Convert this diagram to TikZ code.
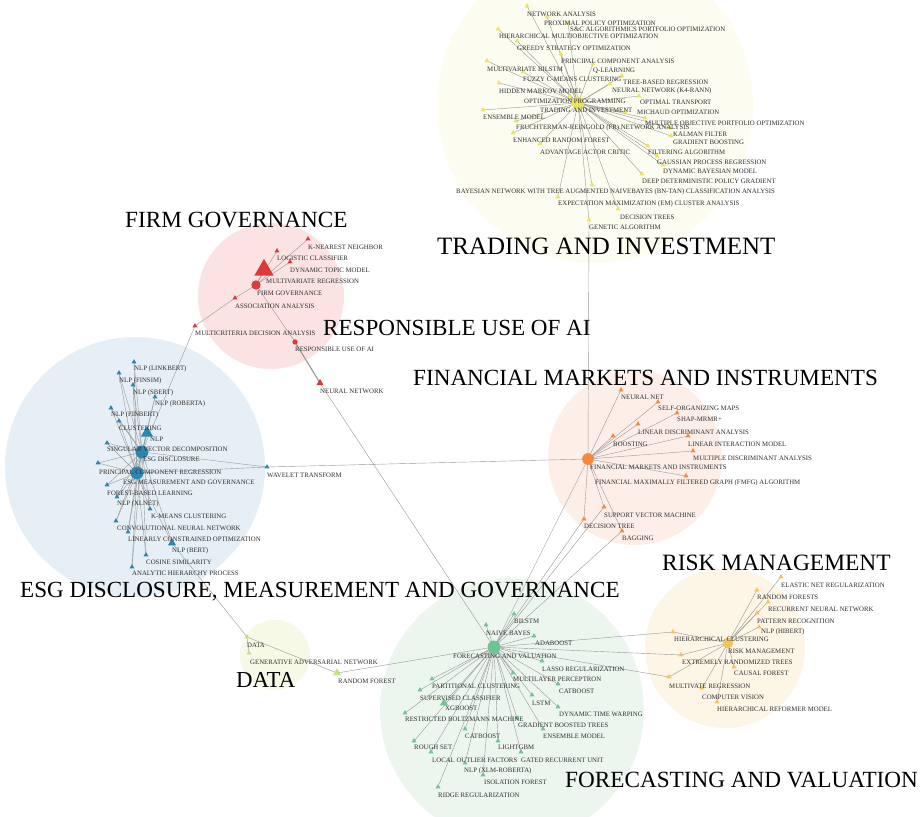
\documentclass[tikz,border=0pt]{standalone}
\usepackage{tikz, tkz-euclide}
\usepackage{fontspec}
\setmainfont{Liberation Serif}
\usetikzlibrary{shapes.geometric}

\definecolor{tiyel}{HTML}{EDE35E}
\definecolor{tibg}{HTML}{FDFCF0}
\definecolor{fgred}{HTML}{D93A3C}
\definecolor{fgbg}{HTML}{FBE3E3}
\definecolor{esgblue}{HTML}{2B87B2}
\definecolor{esgbg}{HTML}{E6EFF5}
\definecolor{fmorange}{HTML}{F5883C}
\definecolor{fmbg}{HTML}{FDEFE8}
\definecolor{rmgold}{HTML}{F5C35C}
\definecolor{rmbg}{HTML}{FDF5E6}
\definecolor{fvgreen}{HTML}{6CC592}
\definecolor{fvbg}{HTML}{ECF6EE}
\definecolor{dtgreen}{HTML}{C3E27A}
\definecolor{dtbg}{HTML}{F6F9E6}

\tikzset{
  link/.style = {draw=gray!80, line width=0.35pt},
  tri/.style = {regular polygon, regular polygon sides=3, inner sep=0pt,
                minimum size=5pt, fill=#1, draw=none},
  hubdot/.style = {circle, inner sep=0pt, minimum size=10pt, fill=#1, draw=none},
  lbl/.style = {anchor=west, inner sep=0pt, text=black!82,
                font=\fontsize{5.8}{6}\selectfont},
  heading/.style = {anchor=west, inner sep=0pt, font=\fontsize{#1}{#1}\selectfont},
  heading/.default = 20
}

\begin{document}
\begin{tikzpicture}[x=0.03cm, y=-0.03cm]
    \useasboundingbox (0,0) rectangle (921,817);
    \fill[white] (0,0) rectangle (921,817);

    % cluster discs
    \fill[tibg] (595,105) circle[radius=158];
    \fill[fgbg] (271,296) circle[radius=73];
    \fill[esgbg] (135,467) circle[radius=130];
    \fill[fmbg] (635,458) circle[radius=87];
    \fill[rmbg] (725,648) circle[radius=80];
    \fill[fvbg] (512,710) circle[radius=132];
    \fill[dtbg] (275,655) circle[radius=35];

    % hubs and leaves
    \tkzDefPoints{578/103/TI, 256/285/FG, 295/342/RU, 142/452/ED, 137/473/EM,
      247/637/DT, 588/459/FM, 728/643/RM, 494/647/FV}
    \tkzDefPoints{527/6/t1, 547/17/t2, 568/23/t3, 498/29/t4, 517/41/t5,
      561/54/t6, 487/61/t7, 593/64/t8, 523/72/t9, 622/76/t10, 499/83/t11,
      610/84/t12, 570/96/t13, 639/96/t14, 625/112/t15, 483/110/t16,
      645/118/t17, 516/121/t18, 513/133/t19, 670/128/t20, 671/136/t21,
      540/144/t22, 648/146/t23, 657/156/t24, 663/165/t25, 642/174/t26,
      592/185/t27, 558/197/t28, 618/209/t29, 589/220/t30}
    \tkzDefPoints{308/239/f1, 277/251/f2, 290/262/f3, 264/270/f4, 235/298/f5,
      195/326/f6, 320/383/f7}
    \tkzDefPoints{134/362/e1, 119/373/e2, 133/385/e3, 155/397/e4, 111/408/e5,
      119/421/e6, 147/433/e7, 107/443/e8, 98/463/e9, 267/467/e10,
      107/485/e11, 117/497/e12, 150/509/e13, 116/521/e14, 128/532/e15,
      172/543/e16, 146/555/e17, 132/567/e18}
    \tkzDefPoints{249/653/d1, 337/673/d2}
    \tkzDefPoints{621/390/m1, 658/402/m2, 677/413/m3, 638/424/m4, 613/436/m5,
      688/436/m6, 693/451/m7, 686/476/m8, 604/507/m9, 584/519/m10, 622/531/m11}
    \tkzDefPoints{781/577/r1, 757/590/r2, 768/602/r3, 757/613/r4, 759/627/r5,
      673/632/r6, 681/655/r7, 734/667/r8, 669/677/r9, 702/688/r10, 717/702/r11}
    \tkzDefPoints{514/614/v1, 486/625/v2, 534/636/v3, 542/661/v4, 513/673/v5,
      432/679/v6, 558/684/v7, 420/690/v8, 532/695/v9, 444/703/v10,
      558/707/v11, 405/713/v12, 517/718/v13, 465/729/v14, 543/729/v15,
      414/741/v16, 498/741/v17, 431/752/v18, 521/752/v19, 465/763/v20,
      483/775/v21, 438/787/v22}

    % edges
    \foreach \i in {1,...,30} \draw[link] (TI) -- (t\i);
    \foreach \i in {1,...,5} \draw[link] (FG) -- (f\i);
    \foreach \i in {1,...,9,11,12,...,18} {
      \draw[link] (ED) -- (e\i);
      \draw[link] (EM) -- (e\i);
    }
    \foreach \i in {1,...,11} \draw[link] (FM) -- (m\i);
    \foreach \i in {1,...,11} \draw[link] (RM) -- (r\i);
    \foreach \i in {1,...,22} \draw[link] (FV) -- (v\i);
    \tkzDrawSegments[link](t30,FM f5,f6 f6,ED FG,RU RU,f7 f7,FV ED,EM ED,e10
      EM,e10 e10,FM e16,DT DT,d1 DT,d2 d2,FV FM,FV m9,FV m10,FV m11,FV
      FV,r6 FV,r7 FV,r9)
    \draw[link, line width=0.9pt] (RU) -- (f7);

    % markers
    \foreach \i in {1,...,30} \node[tri=tiyel] (mt\i) at (t\i) {};
    \foreach \i in {1,2,3,5,6} \node[tri=fgred] (mf\i) at (f\i) {};
    \node[tri=fgred, minimum size=19pt] (mf4) at (f4) {};
    \node[tri=fgred, minimum size=7pt] (mf7) at (f7) {};
    \foreach \i in {1,...,6,8,9,...,15,17,18} \node[tri=esgblue] (me\i) at (e\i) {};
    \node[tri=esgblue, minimum size=12pt] (me7) at (e7) {};
    \node[tri=esgblue, minimum size=8pt] (me16) at (e16) {};
    \node[tri=dtgreen] (mdt) at (DT) {};
    \node[tri=dtgreen] (md1) at (d1) {};
    \node[tri=dtgreen, minimum size=8pt] (md2) at (d2) {};
    \foreach \i in {1,...,11} \node[tri=fmorange] (mm\i) at (m\i) {};
    \foreach \i in {1,...,11} \node[tri=rmgold] (mr\i) at (r\i) {};
    \foreach \i in {1,...,9,11,12,...,22} \node[tri=fvgreen] (mv\i) at (v\i) {};
    \node[tri=fvgreen, minimum size=8pt] (mv10) at (v10) {};
    \node[hubdot=tiyel, minimum size=11pt] (hTI) at (TI) {};
    \node[hubdot=fgred, minimum size=8pt] (hFG) at (FG) {};
    \node[hubdot=fgred, minimum size=4.5pt] (hRU) at (RU) {};
    \node[hubdot=esgblue, minimum size=11pt] (hED) at (ED) {};
    \node[hubdot=esgblue, minimum size=11pt] (hEM) at (EM) {};
    \node[hubdot=fmorange, minimum size=10pt] (hFM) at (FM) {};
    \node[hubdot=rmgold, minimum size=9pt] (hRM) at (RM) {};
    \node[hubdot=fvgreen, minimum size=11pt] (hFV) at (FV) {};

    % labels
    \foreach \n/\lx/\ly/\txt in {t1/527/14/NETWORK ANALYSIS,
      t2/544/23/PROXIMAL POLICY OPTIMIZATION,
      t3/570/29/S\&C ALGORITHMICS PORTFOLIO OPTIMIZATION,
      t4/499/36/HIERARCHICAL MULTIOBJECTIVE OPTIMIZATION,
      t5/517/48/GREEDY STRATEGY OPTIMIZATION,
      t6/561/61/PRINCIPAL COMPONENT ANALYSIS,
      t7/487/69/MULTIVARIATE BILSTM,
      t8/593/71/Q-LEARNING,
      t9/523/79/FUZZY C-MEANS CLUSTERING,
      t10/623/82/TREE-BASED REGRESSION,
      t11/499/91/HIDDEN MARKOV MODEL,
      t12/612/91/NEURAL NETWORK (K4-RANN),
      t13/524/101/OPTIMIZATION PROGRAMMING,
      t14/640/102/OPTIMAL TRANSPORT,
      TI/540/110/TRADING AND INVESTMENT,
      t15/637/112/MICHAUD OPTIMIZATION,
      t16/483/117/ENSEMBLE MODEL,
      t17/645/123/MULTIPLE OBJECTIVE PORTFOLIO OPTIMIZATION,
      t18/516/128/FRUCHTERMAN-REINGOLD (FR) NETWORK ANALYSIS,
      t19/513/140/ENHANCED RANDOM FOREST,
      t20/673/134/KALMAN FILTER,
      t21/673/142/GRADIENT BOOSTING,
      t22/540/152/ADVANTAGE ACTOR CRITIC,
      t23/648/152/FILTERING ALGORITHM,
      t24/657/162/GAUSSIAN PROCESS REGRESSION,
      t25/663/171/DYNAMIC BAYESIAN MODEL,
      t26/642/181/DEEP DETERMINISTIC POLICY GRADIENT,
      t27/456/192/BAYESIAN NETWORK WITH TREE AUGMENTED NAIVEBAYES (BN-TAN) CLASSIFICATION ANALYSIS,
      t28/558/204/EXPECTATION MAXIMIZATION (EM) CLUSTER ANALYSIS,
      t29/620/217/DECISION TREES,
      t30/589/227/GENETIC ALGORITHM}
      \node[lbl] (l\n) at (\lx,\ly) {\txt};
    \foreach \n/\lx/\ly/\txt in {f1/308/247/K-NEAREST NEIGHBOR,
      f2/277/258/LOGISTIC CLASSIFIER,
      f3/290/270/DYNAMIC TOPIC MODEL,
      f4/266/281/MULTIVARIATE REGRESSION,
      FG/257/293/FIRM GOVERNANCE,
      f5/235/306/ASSOCIATION ANALYSIS,
      f6/195/333/MULTICRITERIA DECISION ANALYSIS,
      RU/295/349/RESPONSIBLE USE OF AI,
      f7/320/391/NEURAL NETWORK}
      \node[lbl] (l\n) at (\lx,\ly) {\txt};
    \foreach \n/\lx/\ly/\txt in {e1/134/369/NLP (LINKBERT),
      e2/119/381/NLP (FINSIM),
      e3/133/393/NLP (SBERT),
      e4/155/404/NLP (ROBERTA),
      e5/111/415/NLP (FINBERT),
      e6/119/428/CLUSTERING,
      e7/150/439/NLP,
      e8/107/449/SINGULAR VECTOR DECOMPOSITION,
      ED/143/459/ESG DISCLOSURE,
      e9/99/472/PRINCIPAL COMPONENT REGRESSION,
      EM/123/482/ESG MEASUREMENT AND GOVERNANCE,
      e10/267/475/WAVELET TRANSFORM,
      e11/107/493/FOREST-BASED LEARNING,
      e12/117/504/NLP (XLNET),
      e13/151/516/K-MEANS CLUSTERING,
      e14/117/528/CONVOLUTIONAL NEURAL NETWORK,
      e15/128/539/LINEARLY CONSTRAINED OPTIMIZATION,
      e16/172/551/NLP (BERT),
      e17/146/562/COSINE SIMILARITY,
      e18/132/573/ANALYTIC HIERARCHY PROCESS}
      \node[lbl] (l\n) at (\lx,\ly) {\txt};
    \foreach \n/\lx/\ly/\txt in {DT/247/645/DATA,
      d1/250/662/GENERATIVE ADVERSARIAL NETWORK,
      d2/338/681/RANDOM FOREST}
      \node[lbl] (l\n) at (\lx,\ly) {\txt};
    \foreach \n/\lx/\ly/\txt in {m1/621/397/NEURAL NET,
      m2/658/408/SELF-ORGANIZING MAPS,
      m3/677/419/SHAP-MRMR+,
      m4/638/432/LINEAR DISCRIMINANT ANALYSIS,
      m5/613/444/BOOSTING,
      m6/688/444/LINEAR INTERACTION MODEL,
      m7/693/458/MULTIPLE DISCRIMINANT ANALYSIS,
      FM/590/467/FINANCIAL MARKETS AND INSTRUMENTS,
      m8/595/483/FINANCIAL MAXIMALLY FILTERED GRAPH (FMFG) ALGORITHM,
      m9/604/515/SUPPORT VECTOR MACHINE,
      m10/584/526/DECISION TREE,
      m11/622/538/BAGGING}
      \node[lbl] (l\n) at (\lx,\ly) {\txt};
    \foreach \n/\lx/\ly/\txt in {r1/781/585/ELASTIC NET REGULARIZATION,
      r2/757/597/RANDOM FORESTS,
      r3/768/609/RECURRENT NEURAL NETWORK,
      r4/757/621/PATTERN RECOGNITION,
      r5/761/632/NLP (HIBERT),
      r6/674/639/HIERARCHICAL CLUSTERING,
      RM/728/651/RISK MANAGEMENT,
      r7/682/662/EXTREMELY RANDOMIZED TREES,
      r8/734/673/CAUSAL FOREST,
      r9/669/686/MULTIVATE REGRESSION,
      r10/702/697/COMPUTER VISION,
      r11/717/709/HIERARCHICAL REFORMER MODEL}
      \node[lbl] (l\n) at (\lx,\ly) {\txt};
    \foreach \n/\lx/\ly/\txt in {v1/514/621/BILSTM,
      v2/486/633/NAIVE BAYES,
      v3/535/643/ADABOOST,
      FV/453/656/FORECASTING AND VALUATION,
      v4/542/669/LASSO REGULARIZATION,
      v5/513/679/MULTILAYER PERCEPTRON,
      v6/432/686/PARTITIONAL CLUSTERING,
      v7/559/691/CATBOOST,
      v8/420/698/SUPERVISED CLASSIFIER,
      v9/532/703/LSTM,
      v10/445/708/XGBOOST,
      v11/559/714/DYNAMIC TIME WARPING,
      v12/405/719/RESTRICTED BOLTZMANN MACHINE,
      v13/518/725/GRADIENT BOOSTED TREES,
      v14/465/736/CATBOOST,
      v15/543/736/ENSEMBLE MODEL,
      v16/414/747/ROUGH SET,
      v17/498/747/LIGHTGBM,
      v18/432/760/LOCAL OUTLIER FACTORS,
      v19/521/760/GATED RECURRENT UNIT,
      v20/464/771/NLP (XLM-ROBERTA),
      v21/484/782/ISOLATION FOREST,
      v22/438/795/RIDGE REGULARIZATION}
      \node[lbl] (l\n) at (\lx,\ly) {\txt};

    % cluster headings
    \node[heading=19.8] (hdFG) at (125,220) {FIRM GOVERNANCE};
    \node[heading=21.3] (hdTI) at (437,246) {TRADING AND INVESTMENT};
    \node[heading=19.7] (hdRU) at (323,328) {RESPONSIBLE USE OF AI};
    \node[heading=19.75] (hdFM) at (413,378) {FINANCIAL MARKETS AND INSTRUMENTS};
    \node[heading=20] (hdRM) at (662,563) {RISK MANAGEMENT};
    \node[heading=19.7] (hdESG) at (20,592) {ESG DISCLOSURE, MEASUREMENT AND GOVERNANCE};
    \node[heading=19.5] (hdDT) at (236,680) {DATA};
    \node[heading=19.8] (hdFV) at (565,780) {FORECASTING AND VALUATION};
\end{tikzpicture}
\end{document}
